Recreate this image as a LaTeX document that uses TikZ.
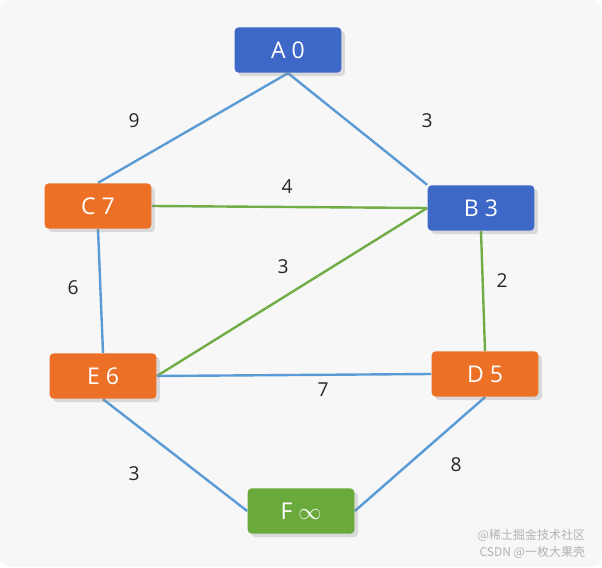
\documentclass[tikz,border=0pt]{standalone}
\usepackage{fontspec}
\setmainfont{Open Sans}
\newfontfamily\cjk{Noto Sans CJK SC}
\usetikzlibrary{shadows,backgrounds}
\definecolor{bluenode}{RGB}{61,104,200}
\definecolor{orangenode}{RGB}{236,112,38}
\definecolor{greennode}{RGB}{106,170,60}
\definecolor{blueedge}{RGB}{91,155,213}
\definecolor{greenedge}{RGB}{112,173,71}
\tikzset{every picture/.style={line width=0.75pt}}
\tikzset{
  vertex/.style={rounded corners=3pt,minimum width=80pt,minimum height=34pt,text=white,font=\LARGE,draw=none,drop shadow={opacity=0.25}},
  blueedge/.style={draw=blueedge,line width=1.8pt},
  greenedge/.style={draw=greenedge,line width=1.8pt},
  weight/.style={font=\Large,text=black!85}
}
\begin{document}
\begin{tikzpicture}[x=0.75pt,y=0.75pt,yscale=-1,xscale=1]
\useasboundingbox (0,0) rectangle (602,567);

% vertices
\node [vertex,fill=bluenode] (A) at (288,50) {A 0};
\node [vertex,fill=bluenode] (B) at (481,208) {B 3};
\node [vertex,fill=orangenode] (C) at (98,206) {C 7};
\node [vertex,fill=orangenode] (D) at (485,374) {D 5};
\node [vertex,fill=orangenode] (E) at (103,376) {E 6};
\node [vertex,fill=greennode] (F) at (301,511) {F $\infty$};

% edges and background
\begin{scope}[on background layer]
\fill [rounded corners=8pt,fill={rgb,255:red,247;green,247;blue,247}] (0,0) rectangle (602,567);
\draw [blueedge] (A.south) -- (C.north);
\draw [blueedge] (A.south) -- (B.north west);
\draw [greenedge] (C.east) -- (B.west);
\draw [blueedge] (C.south) -- (E.north);
\draw [greenedge] (B.south) -- (D.north);
\draw [greenedge] (E.east) -- (B.west);
\draw [blueedge] (E.east) -- (D.west);
\draw [blueedge] (E.south) -- (F.west);
\draw [blueedge] (D.south) -- (F.east);
\end{scope}

% weights
\node [weight] (w1) at (134,121) {9};
\node [weight] (w2) at (427,121) {3};
\node [weight] (w3) at (287,187) {4};
\node [weight] (w4) at (73,288) {6};
\node [weight] (w5) at (502,281) {2};
\node [weight] (w6) at (283,267) {3};
\node [weight] (w7) at (323,390) {7};
\node [weight] (w8) at (134,474) {3};
\node [weight] (w9) at (456,465) {8};

% watermark
\node [anchor=east,text=black!30,font=\cjk\small] (wm) at (590,552) {CSDN @一枚大果壳};
\node [anchor=east,text=black!30,font=\cjk\small] (wm2) at (590,535) {@稀土掘金技术社区};
\end{tikzpicture}
\end{document}
